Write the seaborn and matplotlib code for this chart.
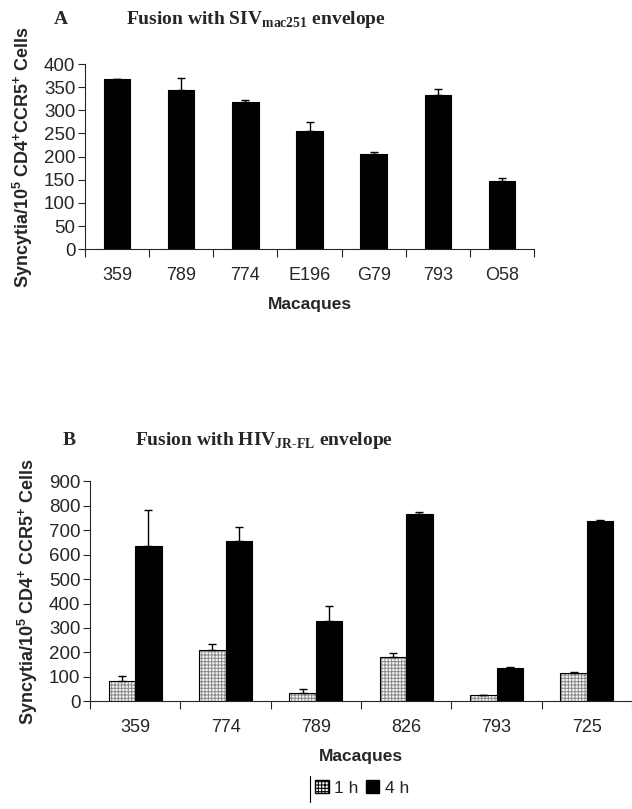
import matplotlib
matplotlib.use("Agg")
import matplotlib.pyplot as plt
import seaborn as sns
import pandas as pd
import numpy as np
from matplotlib.patches import Patch, Rectangle

# ---- data ----
macaques_a = ["359", "789", "774", "E196", "G79", "793", "O58"]
syncytia_a = [367, 344, 318, 255, 205, 334, 147]
err_a = [1, 25, 5, 20, 5, 11, 6]

macaques_b = ["359", "774", "789", "826", "793", "725"]
syncytia_1h = [84, 208, 33, 183, 25, 115]
err_1h = [20, 25, 19, 13, 0, 5]
syncytia_4h = [634, 655, 330, 766, 136, 739]
err_4h = [147, 57, 60, 9, 6, 4]

sns.set_style("ticks")
plt.rcParams["font.family"] = ["Liberation Sans", "DejaVu Sans"]
plt.rcParams["mathtext.fontset"] = "custom"
plt.rcParams["mathtext.rm"] = "Liberation Serif:bold"
plt.rcParams["mathtext.sf"] = "Liberation Sans:bold"
plt.rcParams["mathtext.bf"] = "Liberation Sans:bold"
plt.rcParams["hatch.linewidth"] = 0.7

HATCH_FACE = "#f4f4f4"
HATCH_EDGE = "#8a8a8a"
HATCH = "+++++"

fig = plt.figure(figsize=(6.32, 8.09), dpi=100)
axA = fig.add_axes([85/632, 1-249.3/809, 449/632, 185.3/809])
axB = fig.add_axes([90/632, 1-701.3/809, 542/632, 220/809])

# ---- panel A ----
dfa = pd.DataFrame({"Macaque": macaques_a, "Syncytia": syncytia_a})
sns.barplot(data=dfa, x="Macaque", y="Syncytia", color="black", width=0.41,
            edgecolor="black", linewidth=0.8, ax=axA, errorbar=None)
xs = [p.get_x() + p.get_width()/2 for p in axA.patches]
hs = [p.get_height() for p in axA.patches]
axA.errorbar(xs, hs, yerr=[np.zeros(len(err_a)), err_a], fmt="none",
             ecolor="black", elinewidth=1, capsize=3, capthick=1)

# ---- panel B ----
dfb = pd.DataFrame({
    "Macaque": macaques_b * 2,
    "Syncytia": syncytia_1h + syncytia_4h,
    "Time": ["1 h"] * len(macaques_b) + ["4 h"] * len(macaques_b),
})
sns.barplot(data=dfb, x="Macaque", y="Syncytia", hue="Time",
            palette={"1 h": "white", "4 h": "black"}, width=0.59,
            edgecolor="black", linewidth=0.8, ax=axB, errorbar=None, legend=False)
n = len(macaques_b)
bars = list(axB.patches)[:2*n]
for p in bars[:n]:
    p.set_facecolor(HATCH_FACE)
    p.set_edgecolor(HATCH_EDGE)
    p.set_hatch(HATCH)
    p.set_linewidth(0)
    axB.add_patch(Rectangle(p.get_xy(), p.get_width(), p.get_height(),
                            fill=False, edgecolor="black", linewidth=0.8, zorder=p.get_zorder()+0.1))
errs_b = err_1h + err_4h
xs = [p.get_x() + p.get_width()/2 for p in bars]
hs = [p.get_height() for p in bars]
axB.errorbar(xs, hs, yerr=[np.zeros(len(errs_b)), errs_b], fmt="none",
             ecolor="black", elinewidth=1, capsize=3, capthick=1)

# ---- axes styling ----
def style(ax, ncat, ymax, ystep):
    ax.set_xlim(-0.5, ncat - 0.5)
    ax.set_ylim(0, ymax)
    ax.set_yticks(np.arange(0, ymax + 1, ystep))
    ax.set_xticks(np.arange(-0.5, ncat, 1.0))
    ax.set_xticklabels([])
    ax.set_xticks(np.arange(ncat), minor=True)
    ax.tick_params(axis="x", which="major", length=6, width=0.8, direction="out")
    ax.tick_params(axis="x", which="minor", length=0, pad=13, labelsize=13)
    ax.tick_params(axis="y", length=5, width=0.8, labelsize=13.5, pad=2)
    for s in ["top", "right"]:
        ax.spines[s].set_visible(False)
    for s in ["left", "bottom"]:
        ax.spines[s].set_linewidth(0.8)
    ax.set_xlabel("Macaques", fontsize=12.5, fontweight="bold", labelpad=9)

style(axA, len(macaques_a), 400, 50)
axA.set_xticklabels(macaques_a, minor=True)
axA.set_ylabel(r"Syncytia/10$^{\mathsf{5}}$ CD4$^{\mathsf{+}}$CCR5$^{\mathsf{+}}$ Cells",
               fontsize=13, fontweight="bold", labelpad=6)

style(axB, len(macaques_b), 900, 100)
axB.set_xticklabels(macaques_b, minor=True)
axB.set_ylabel(r"Syncytia/10$^{\mathsf{5}}$ CD4$^{\mathsf{+}}$ CCR5$^{\mathsf{+}}$ Cells",
               fontsize=13, fontweight="bold", labelpad=6)

# ---- titles ----
serif = ["Liberation Serif", "DejaVu Serif"]
fig.text(54/632, 1-20/809, "A", fontsize=14, fontweight="bold", family=serif, va="center")
fig.text(126/632, 1-20/809, r"Fusion with SIV$_{\mathrm{mac251}}$ envelope",
         fontsize=14, fontweight="bold", family=serif, va="center")
fig.text(63/632, 1-440/809, "B", fontsize=14, fontweight="bold", family=serif, va="center")
fig.text(135/632, 1-440/809, r"Fusion with HIV$_{\mathrm{JR\text{-}FL}}$ envelope",
         fontsize=14, fontweight="bold", family=serif, va="center")

# ---- legend ----
handles = [Patch(facecolor=HATCH_FACE, edgecolor="black", hatch=HATCH, label="1 h"),
           Patch(facecolor="black", edgecolor="black", label="4 h")]
fig.legend(handles=handles, loc="center", bbox_to_anchor=(362/632, 1-788/809),
           ncol=2, frameon=False, fontsize=12.5, handlelength=0.8, handleheight=0.8,
           handletextpad=0.3, columnspacing=0.4)
fig.add_artist(plt.Line2D([310/632, 310/632], [1-802/809, 1-776/809],
                          color="black", lw=0.8, transform=fig.transFigure))

fig.savefig("out.png", dpi=100)
